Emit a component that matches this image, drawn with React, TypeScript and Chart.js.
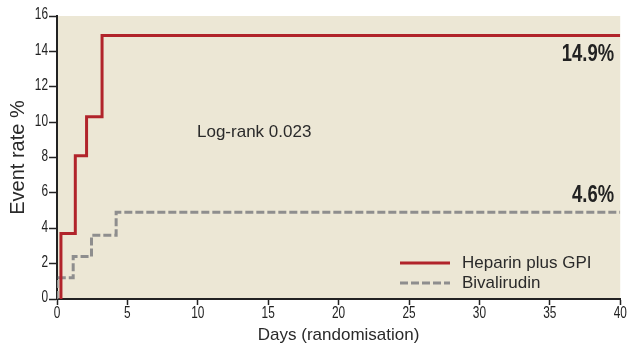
import React, { useEffect, useRef } from "react";
import { Chart, registerables } from "chart.js";

Chart.register(...registerables);

const heparinDays = [0.28, 0.28, 1.3, 2.1, 3.2, 40];
const heparinRates = [0, 3.7, 8.1, 10.3, 14.9, 14.9];
const bivalDays = [0, 0, 1.15, 2.45, 4.2, 40];
const bivalRates = [0, 1.2, 2.4, 3.6, 4.9, 4.9];
const seriesNames = ["Heparin plus GPI", "Bivalirudin"];
const endLabels = ["14.9%", "4.6%"];
const logRankText = "Log-rank 0.023";
const xTitle = "Days (randomisation)";
const yTitle = "Event rate %";

const RED = "#b1242b";
const GRAY = "#8e8e8e";
const BG = "#ece7d5";
const SANS = "'Liberation Sans', Arial, sans-serif";

function condText(ctx: any, text: string, x: number, y: number, align: string, squeeze: number) {
  ctx.save();
  ctx.translate(x, y);
  ctx.scale(squeeze, 1);
  ctx.textAlign = align;
  ctx.fillText(text, 0, 0);
  ctx.restore();
}

const overlay = {
  id: "overlay",
  beforeDraw(chart: any) {
    const { ctx, chartArea } = chart;
    ctx.save();
    ctx.fillStyle = BG;
    ctx.fillRect(chartArea.left, chartArea.top, chartArea.right - chartArea.left, chartArea.bottom - chartArea.top);
    ctx.restore();
  },
  afterDraw(chart: any) {
    const { ctx } = chart;
    const xs = chart.scales.x;
    const ys = chart.scales.y;
    ctx.save();
    // tick labels (condensed)
    ctx.fillStyle = "#222";
    ctx.font = `16px ${SANS}`;
    ctx.textBaseline = "middle";
    ys.ticks.forEach((t: any) => {
      condText(ctx, String(t.value), ys.left + ys.width - 9, ys.getPixelForValue(t.value) - 1, "right", 0.74);
    });
    xs.ticks.forEach((t: any) => {
      condText(ctx, String(t.value), xs.getPixelForValue(t.value), xs.top + 15, "center", 0.74);
    });

    ctx.fillStyle = "#2a2a2a";
    ctx.font = `17px ${SANS}`;
    ctx.textAlign = "left";
    ctx.fillText(logRankText, 197, 132);

    ctx.font = `bold 23px ${SANS}`;
    ctx.fillStyle = "#222";
    condText(ctx, endLabels[0], 614, ys.getPixelForValue(14.9) + 19, "right", 0.8);
    condText(ctx, endLabels[1], 614, ys.getPixelForValue(4.9) - 17, "right", 0.8);

    // legend
    ctx.lineWidth = 3;
    ctx.strokeStyle = RED;
    ctx.beginPath();
    ctx.moveTo(400, 263);
    ctx.lineTo(450, 263);
    ctx.stroke();
    ctx.strokeStyle = GRAY;
    ctx.setLineDash([8, 3]);
    ctx.beginPath();
    ctx.moveTo(400, 283);
    ctx.lineTo(450, 283);
    ctx.stroke();
    ctx.setLineDash([]);
    ctx.fillStyle = "#2a2a2a";
    ctx.font = `17px ${SANS}`;
    ctx.textAlign = "left";
    ctx.fillText(seriesNames[0], 462, 263);
    ctx.fillText(seriesNames[1], 462, 283);
    ctx.restore();
  },
};

export default function App() {
  const ref = useRef<HTMLCanvasElement | null>(null);
  useEffect(() => {
    document.body.style.margin = "0";
    const canvas = ref.current!;
    const chart = new Chart(canvas, {
      type: "line",
      data: {
        datasets: [
          {
            label: seriesNames[0],
            data: heparinDays.map((d, i) => ({ x: d, y: heparinRates[i] })),
            borderColor: RED,
            borderWidth: 3,
            stepped: "before",
            pointRadius: 0,
            fill: false,
          },
          {
            label: seriesNames[1],
            data: bivalDays.map((d, i) => ({ x: d, y: bivalRates[i] })),
            borderColor: GRAY,
            borderWidth: 3,
            borderDash: [8, 3],
            stepped: "before",
            pointRadius: 0,
            fill: false,
          },
        ],
      },
      options: {
        responsive: false,
        animation: false,
        layout: { padding: { top: 16, right: 7, left: 2, bottom: 0 } },
        plugins: { legend: { display: false }, tooltip: { enabled: false } },
        scales: {
          x: {
            type: "linear",
            min: 0,
            max: 40,
            ticks: { stepSize: 5, color: "rgba(0,0,0,0)", font: { family: SANS, size: 14 }, padding: 2 },
            grid: { drawOnChartArea: false, tickLength: 6, tickColor: "#222", tickWidth: 1.5 },
            border: { color: "#222", width: 2 },
            title: { display: true, text: xTitle, color: "#2a2a2a", font: { family: SANS, size: 17 }, padding: { top: 4, bottom: 0 } },
            afterFit(scale: any) {
              scale.height = 47;
            },
          },
          y: {
            min: 0,
            max: 16,
            ticks: { stepSize: 2, color: "rgba(0,0,0,0)", font: { family: SANS, size: 14 }, padding: 2 },
            grid: { drawOnChartArea: false, tickLength: 8, tickColor: "#222", tickWidth: 1.5 },
            border: { color: "#222", width: 2 },
            title: { display: true, text: yTitle, color: "#2a2a2a", font: { family: SANS, size: 20 }, padding: { bottom: 6 } },
            afterFit(scale: any) {
              scale.width = 55;
            },
          },
        },
      },
      plugins: [overlay],
    });
    return () => chart.destroy();
  }, []);
  return (
    <div style={{ position: "absolute", left: 0, top: 0, width: 630, height: 346, background: "#fff" }}>
      <canvas ref={ref} width={630} height={346} />
    </div>
  );
}
